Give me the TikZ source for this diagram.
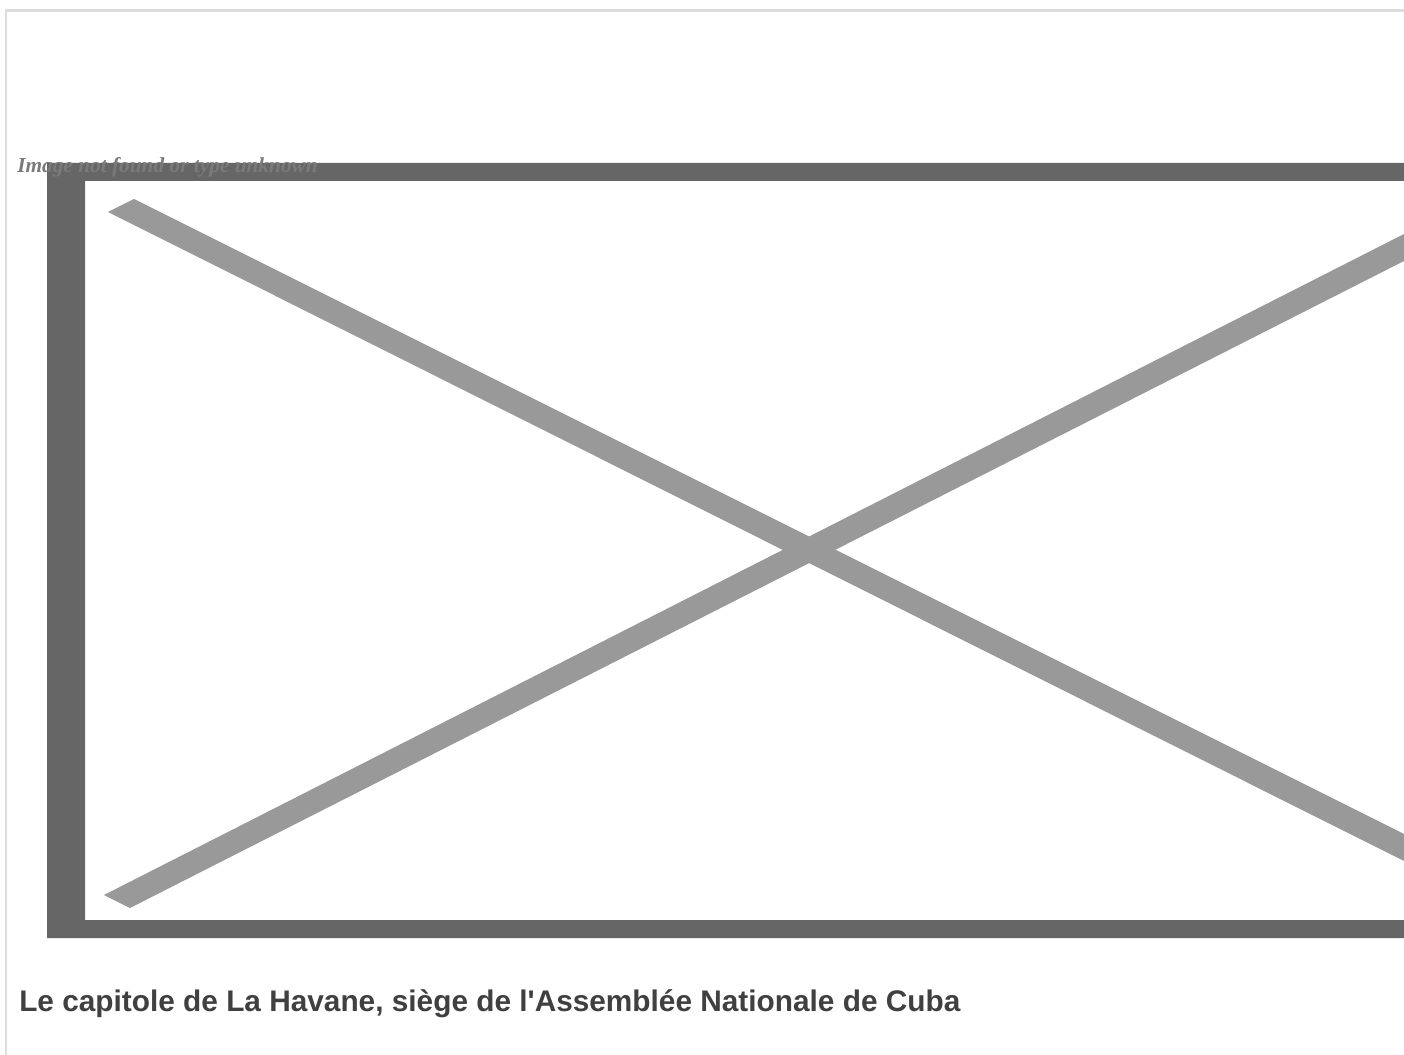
\documentclass[tikz,border=0pt]{standalone}
\usepackage{fontspec}
\setmainfont{Liberation Sans}
\newfontfamily\capfont{Liberation Sans}
\newfontfamily\serifalt{Liberation Serif}
\definecolor{framegray}{HTML}{666666}
\definecolor{bandgray}{HTML}{999999}
\definecolor{bordergray}{HTML}{DDDDDD}
\definecolor{captiongray}{HTML}{404040}
\definecolor{alttext}{HTML}{7A7A7A}
\tikzset{
  framefill/.style={fill=framegray,draw=none},
  bandfill/.style={fill=bandgray,draw=none},
  borderline/.style={draw=bordergray,line width=1.6pt},
  alttextstyle/.style={inner sep=0pt,anchor=base west,text=alttext,font=\serifalt\bfseries\itshape\fontsize{16pt}{18pt}\selectfont},
  captionstyle/.style={inner sep=0pt,anchor=base west,text=captiongray,font=\capfont\bfseries\fontsize{22.35pt}{26pt}\selectfont}
}
\begin{document}
\begin{tikzpicture}[x=0.75pt,y=-0.75pt]
\useasboundingbox (0,0) rectangle (1404,1055);
\fill[white] (0,0) rectangle (1404,1055);
% outer border
\draw[borderline] (6,1055) -- (6,10.5) -- (1404,10.5);
% frame
\fill[framefill,even odd rule] (47,163) rectangle (1404,938) (85,181) rectangle (1404,920);
% cross
\fill[bandfill] (134,199) -- (1404,834) -- (1404,861) -- (108,212) -- cycle;
\fill[bandfill] (104,895) -- (1404,234) -- (1404,261) -- (130,908) -- cycle;
\node[alttextstyle] (alt) at (17,172.5) {Image not found or type unknown};
\node[captionstyle] (caption) at (19,1011.5) {Le capitole de La Havane, siège de l'Assemblée Nationale de Cuba};
\end{tikzpicture}
\end{document}
